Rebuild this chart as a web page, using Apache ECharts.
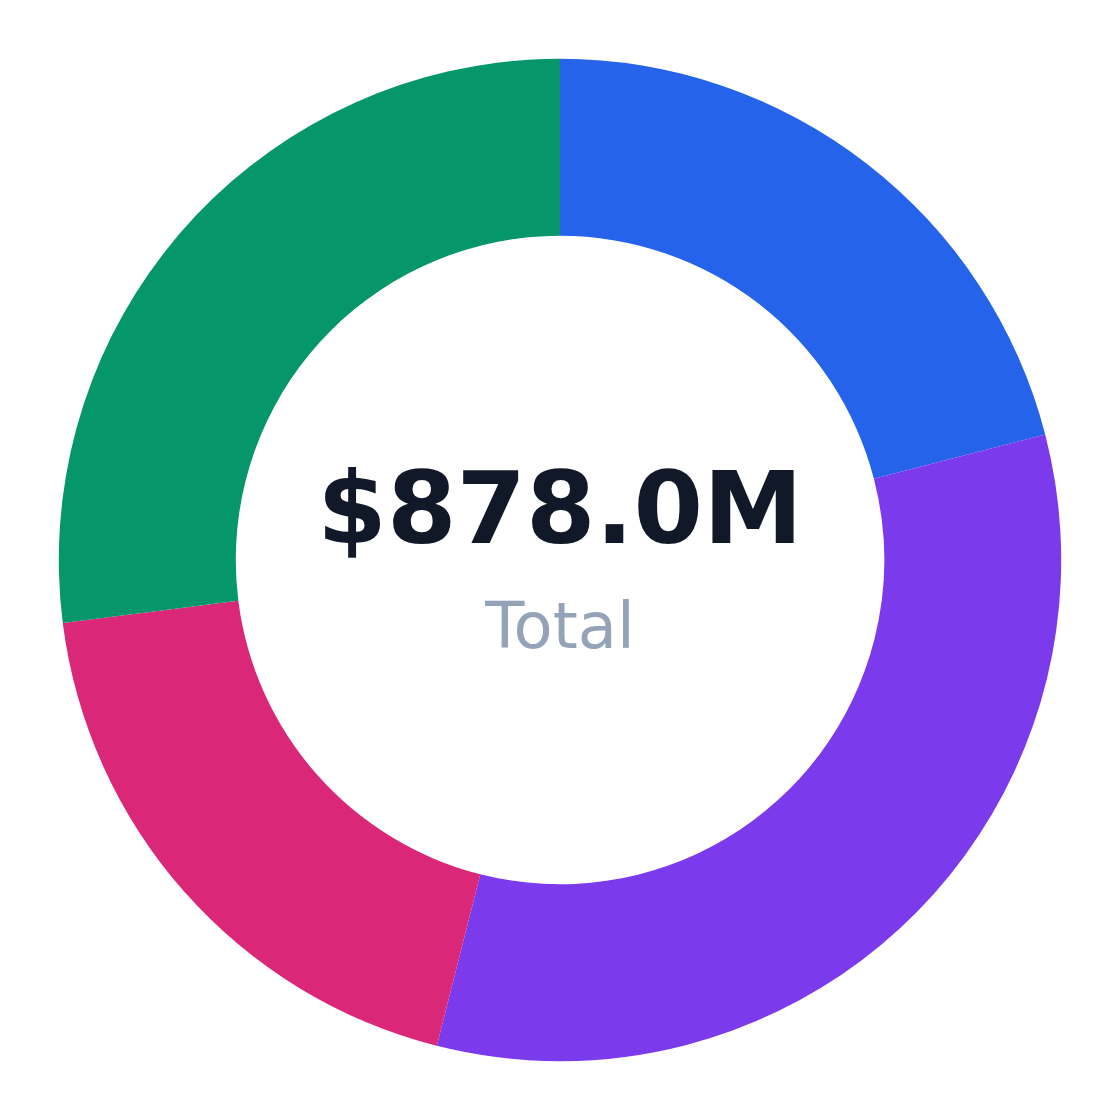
<!DOCTYPE html>
<html>
<head>
<meta charset="utf-8">
<script src="https://cdn.jsdelivr.net/npm/echarts@6/dist/echarts.min.js"></script>
<style>
  html, body { margin: 0; padding: 0; background: #ffffff; }
  #chart { width: 1120px; height: 1120px; }
</style>
</head>
<body>
<div id="chart"></div>
<script>
// slice data, clockwise from 12 o'clock ($M)
const categories = ['North America', 'Europe', 'Asia Pacific', 'Latin America'];
const values = [184.1, 289.6, 167.2, 237.1];
const colors = ['#2563eb', '#7c3aed', '#db2777', '#059669'];

const total = values.reduce((a, b) => a + b, 0);

const chart = echarts.init(document.getElementById('chart'));

chart.setOption({
    animation: false,
    backgroundColor: '#ffffff',
    series: [
        {
            name: 'Revenue',
            type: 'pie',
            center: ['50%', '50%'],
            radius: ['57.9%', '89.5%'],
            startAngle: 90,
            clockwise: true,
            avoidLabelOverlap: false,
            label: { show: false },
            labelLine: { show: false },
            itemStyle: { borderWidth: 0 },
            emphasis: { disabled: true },
            data: categories.map((name, i) => ({
                name: name,
                value: values[i],
                itemStyle: { color: colors[i] }
            }))
        }
    ],
    graphic: [
        {
            type: 'text',
            x: 560,
            y: 517,
            style: {
                text: '$' + total.toFixed(1) + 'M',
                fill: '#111827',
                font: 'bold 100px "DejaVu Sans"',
                textAlign: 'center',
                textVerticalAlign: 'middle'
            }
        },
        {
            type: 'text',
            x: 560,
            y: 631,
            style: {
                text: 'Total',
                fill: '#94a3b8',
                font: '64px "DejaVu Sans"',
                textAlign: 'center',
                textVerticalAlign: 'middle'
            }
        }
    ]
});
</script>
</body>
</html>
